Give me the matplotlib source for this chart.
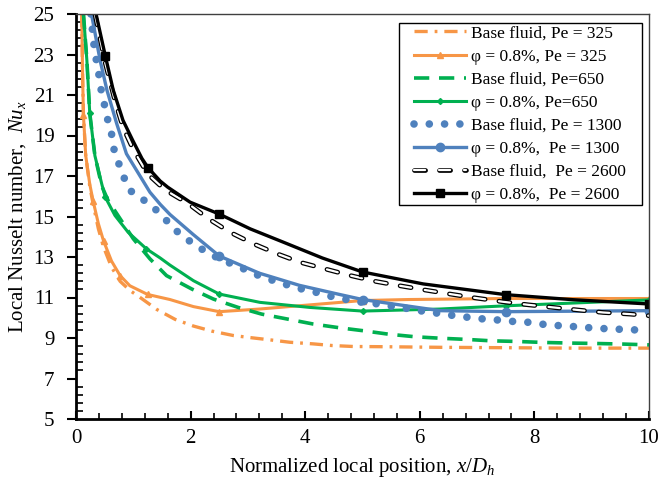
import numpy as np
import matplotlib; matplotlib.use("Agg")
import matplotlib.pyplot as plt
from matplotlib import patheffects as pe
from matplotlib.patches import Rectangle
from matplotlib.ticker import MultipleLocator

plt.rcParams["font.family"] = ["Liberation Serif", "DejaVu Serif"]
plt.rcParams["mathtext.fontset"] = "custom"
plt.rcParams["mathtext.rm"] = "Liberation Serif"
plt.rcParams["mathtext.it"] = "Liberation Serif:italic"
plt.rcParams["lines.scale_dashes"] = False

# values (x/Dh, Nu_x)
x_b325 = [0.10, 0.115, 0.13, 0.17, 0.24, 0.30, 0.39, 0.48, 0.62, 0.77, 0.94, 1.12, 1.41, 1.73, 2.05, 2.37,
          2.75, 3.07, 3.44, 3.73, 4.14, 4.46, 4.84, 5.36, 6.35, 7.52, 8.68, 10.0]
y_b325 = [25.0, 22.0, 20.0, 18.0, 16.5, 15.6, 14.4, 13.5, 12.5, 11.8, 11.35, 11.0, 10.41, 9.92, 9.59, 9.34,
          9.12, 9.01, 8.89, 8.79, 8.71, 8.63, 8.58, 8.57, 8.54, 8.52, 8.5, 8.5]
x_n325 = [0.10, 0.115, 0.13, 0.17, 0.24, 0.30, 0.39, 0.48, 0.62, 0.77, 0.94, 1.25, 1.64, 2.05, 2.5, 3.2,
          4.1, 5.0, 5.8, 7.5, 10.0]
y_n325 = [25.0, 22.0, 20.0, 18.0, 16.6, 15.75, 14.65, 13.8, 12.8, 12.08, 11.58, 11.15, 10.9, 10.55, 10.3, 10.43,
          10.64, 10.85, 10.9, 10.95, 10.95]
mk_n325 = [0.13, 0.30, 0.48, 0.77, 1.25, 2.5, 5.0, 7.5, 10.0]

x_b650 = [0.13, 0.19, 0.24, 0.33, 0.45, 0.56, 0.77, 1.0, 1.29, 1.58, 2.02, 2.4, 2.83, 3.24, 3.7, 4.14,
          4.61, 5.01, 5.45, 5.92, 6.35, 6.82, 7.25, 7.69, 8.16, 8.62, 9.06, 9.55, 10.0]
y_b650 = [25.0, 22.7, 20.1, 18.0, 16.5, 15.79, 14.89, 13.9, 12.91, 12.08, 11.42, 10.92, 10.51, 10.18, 9.93, 9.69,
          9.5, 9.36, 9.19, 9.06, 8.99, 8.93, 8.86, 8.83, 8.78, 8.75, 8.73, 8.7, 8.66]
x_n650 = [0.13, 0.19, 0.24, 0.33, 0.45, 0.51, 0.68, 0.91, 1.23, 1.47, 1.64, 2.05, 2.5, 3.21, 4.08, 5.0,
          6.35, 7.5, 10.0]
y_n650 = [25.0, 22.7, 20.1, 18.0, 16.6, 15.96, 15.05, 14.22, 13.4, 12.95, 12.6, 11.83, 11.17, 10.76, 10.51, 10.33,
          10.43, 10.59, 10.88]
mk_n650 = [0.24, 0.51, 1.23, 2.5, 5.0, 7.5, 10.0]

x_b1300 = [0.26, 0.30, 0.33, 0.39, 0.42, 0.48, 0.54, 0.62, 0.65, 0.73, 0.82, 0.94, 1.15, 1.35, 1.55, 1.73,
           1.93, 2.16, 2.39, 2.65, 2.89, 3.15, 3.41, 3.68, 3.94, 4.2, 4.46, 4.72, 4.98, 5.25, 5.51, 5.8,
           6.06, 6.35, 6.61, 6.88, 7.14, 7.41, 7.69, 7.95, 8.21, 8.5, 8.76, 9.04, 9.32, 9.58, 9.86, 10.0]
y_b1300 = [25.0, 23.8, 23.07, 22.23, 21.49, 20.74, 19.92, 19.09, 18.43, 17.75, 17.03, 16.29, 15.88, 15.46, 14.89, 14.34,
           13.89, 13.45, 13.07, 12.74, 12.46, 12.13, 11.87, 11.63, 11.42, 11.25, 11.05, 10.9, 10.77, 10.69, 10.57, 10.45,
           10.32, 10.21, 10.1, 10.01, 9.93, 9.88, 9.8, 9.77, 9.65, 9.6, 9.55, 9.49, 9.45, 9.42, 9.39, 9.37]
x_n1300 = [0.27, 0.42, 0.54, 0.71, 0.88, 1.29, 1.47, 1.64, 2.05, 2.5, 3.2, 3.9, 4.6, 5.0, 6.35, 7.5, 10.0]
y_n1300 = [25.0, 22.72, 21.24, 19.59, 18.1, 16.2, 15.6, 15.1, 14.1, 13.05, 12.2, 11.6, 11.15, 10.9, 10.35, 10.3, 10.35]
mk_n1300 = [2.5, 5.0, 7.5, 10.0]

x_b2600 = [0.33, 0.5, 0.68, 0.82, 1.0, 1.25, 1.55, 1.96, 2.31, 2.69, 3.09, 3.5, 3.91, 4.35, 4.78, 5.22,
           5.65, 6.09, 6.53, 6.99, 7.45, 7.89, 8.33, 8.77, 9.2, 9.67, 10.0]
y_b2600 = [25.0, 22.7, 20.7, 19.4, 18.3, 17.1, 16.32, 15.63, 14.89, 14.22, 13.66, 13.17, 12.74, 12.41, 12.09, 11.8,
           11.58, 11.37, 11.17, 10.97, 10.79, 10.64, 10.51, 10.38, 10.26, 10.18, 10.1]
x_n2600 = [0.35, 0.51, 0.65, 0.82, 0.99, 1.15, 1.26, 1.47, 1.6, 1.99, 2.5, 3.04, 3.62, 4.3, 5.0, 6.06,
           7.5, 8.68, 10.0]
y_n2600 = [25.0, 22.95, 21.24, 19.75, 18.76, 17.87, 17.4, 16.75, 16.45, 15.71, 15.12, 14.39, 13.73, 12.95, 12.26, 11.67,
           11.14, 10.89, 10.68]
mk_n2600 = [0.51, 1.26, 2.5, 5.0, 7.5, 10.0]

labels = ["Base fluid, Pe = 325", "φ = 0.8%, Pe = 325", "Base fluid, Pe=650", "φ = 0.8%, Pe=650",
          "Base fluid, Pe = 1300", "φ = 0.8%,  Pe = 1300", "Base fluid,  Pe = 2600", "φ = 0.8%,  Pe = 2600"]

orange, green, blue = "#F79646", "#00B050", "#4F81BD"

def idx(xs, mk):
    return list(np.where(np.isin(np.round(xs, 3), np.round(mk, 3)))[0])

fig = plt.figure(figsize=(6.61, 4.87), dpi=100)
ax = fig.add_axes([76/661, 68/487, 573/661, 405/487])

ax.plot(x_b325, y_b325, color=orange, lw=2.4, ls=(0, (9.5, 5, 2, 5)), label=labels[0])
ax.plot(x_n325, y_n325, color=orange, lw=2.2, marker="^", ms=5, markevery=idx(x_n325, mk_n325), label=labels[1])
ax.plot(x_b650, y_b650, color=green, lw=2.6, ls=(0, (11, 7)), label=labels[2])
ax.plot(x_n650, y_n650, color=green, lw=2.2, marker="D", ms=3, markevery=idx(x_n650, mk_n650), label=labels[3])
ax.plot(x_b1300, y_b1300, color=blue, lw=5.5, ls=(0, (0.01, 11)), dash_capstyle="round", label=labels[4])
ax.plot(x_n1300, y_n1300, color=blue, lw=2.4, marker="o", ms=6, markevery=idx(x_n1300, mk_n1300), label=labels[5])
ax.plot(x_b2600, y_b2600, color="white", lw=1.6, ls=(0, (8, 10)), dash_capstyle="round",
        path_effects=[pe.Stroke(linewidth=3.4, foreground="black"), pe.Normal()], label=labels[6])
ax.plot(x_n2600, y_n2600, color="black", lw=2.4, marker="s", ms=5.5, markevery=idx(x_n2600, mk_n2600), label=labels[7])

ax.set_xlim(0, 10)
ax.set_ylim(5, 25)
ax.xaxis.set_major_locator(MultipleLocator(2))
ax.xaxis.set_minor_locator(MultipleLocator(0.4))
ax.yaxis.set_major_locator(MultipleLocator(2, offset=1))
ax.yaxis.set_minor_locator(MultipleLocator(0.4, offset=0.2))
ax.tick_params(axis="x", which="major", direction="in", length=6, width=1.5, labelsize=15, pad=7)
ax.tick_params(axis="x", which="minor", direction="in", length=4, width=1.2)
ax.tick_params(axis="y", which="major", direction="out", length=6.5, width=1.5, labelsize=15, pad=9)
ax.tick_params(axis="y", which="minor", direction="in", length=5, width=1.2)
for s in ("left", "bottom"):
    ax.spines[s].set_linewidth(2)
    ax.spines[s].set_color("black")
for s in ("top", "right"):
    ax.spines[s].set_linewidth(1)
    ax.spines[s].set_color("#404040")

ax.set_xlabel("Normalized local position, $x/D_h$", fontsize=15, labelpad=6)
ax.set_ylabel("Local Nusselt number,  $Nu_x$", fontsize=15, labelpad=4)

# legend box drawn separately: wide side padding, tight top/bottom like the original
ax.add_patch(Rectangle((0.5637, 0.528), 0.4241, 0.4498, transform=ax.transAxes, facecolor="white",
                       edgecolor="black", lw=1, zorder=4.5))
leg = ax.legend(loc="upper right", fontsize=12.5, frameon=False, numpoints=1,
                handlelength=3.0, handletextpad=0.3, labelspacing=0.4, borderpad=0,
                borderaxespad=0, bbox_to_anchor=(0.96, 0.972))

fig.savefig("out.png", dpi=100)
